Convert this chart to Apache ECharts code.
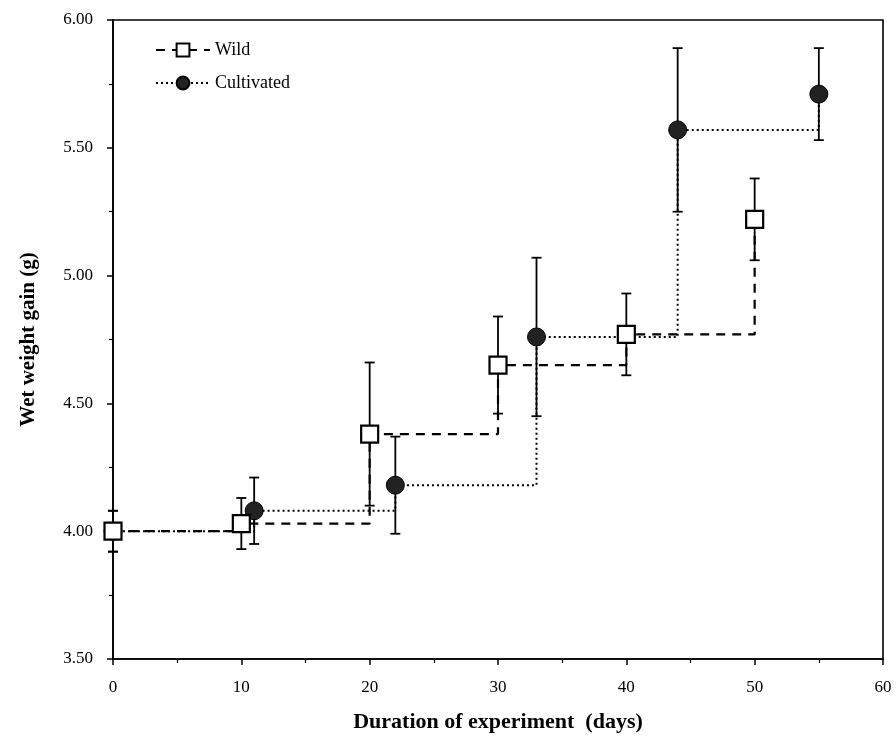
<!DOCTYPE html>
<html>
<head>
<meta charset="utf-8">
<script src="https://cdn.jsdelivr.net/npm/echarts@6/dist/echarts.min.js"></script>
<style>html,body{margin:0;padding:0;background:#fff;}#c{width:896px;height:741px;}</style>
</head>
<body>
<div id="c"></div>
<script>
const wildDays = [0, 10, 20, 30, 40, 50];
const wildMean = [4.00, 4.03, 4.38, 4.65, 4.77, 5.22];
const wildErr  = [0.08, 0.10, 0.28, 0.19, 0.16, 0.16];
const cultDays = [0, 11, 22, 33, 44, 55];
const cultMean = [4.00, 4.08, 4.18, 4.76, 5.57, 5.71];
const cultErr  = [0.08, 0.13, 0.19, 0.31, 0.32, 0.18];

const font = 'Liberation Serif';
const chart = echarts.init(document.getElementById('c'));

function errData(days, mean, err) {
  return days.map((d, i) => [d, mean[i] - err[i], mean[i] + err[i]]);
}
function errRender(params, api) {
  const x = api.value(0), lo = api.value(1), hi = api.value(2);
  const p1 = api.coord([x, hi]), p2 = api.coord([x, lo]);
  const w = 5;
  const st = { stroke: '#000', lineWidth: 1.8 };
  return { type: 'group', children: [
    { type: 'line', shape: { x1: p1[0], y1: p1[1], x2: p2[0], y2: p2[1] }, style: st },
    { type: 'line', shape: { x1: p1[0] - w, y1: p1[1], x2: p1[0] + w, y2: p1[1] }, style: st },
    { type: 'line', shape: { x1: p2[0] - w, y1: p2[1], x2: p2[0] + w, y2: p2[1] }, style: st }
  ]};
}

chart.setOption({
  animation: false,
  backgroundColor: '#fff',
  grid: { left: 113, right: 13, top: 20, bottom: 82, show: true, borderColor: '#000', borderWidth: 1.6 },
  legend: {
    orient: 'vertical', left: 150, top: 36, itemWidth: 54, itemHeight: 16, itemGap: 15,
    textStyle: { fontFamily: font, fontSize: 18, color: '#000' },
    data: ['Wild', 'Cultivated']
  },
  xAxis: {
    type: 'value', min: 0, max: 60, interval: 10,
    name: 'Duration of experiment  (days)', nameLocation: 'middle', nameGap: 52,
    nameTextStyle: { fontFamily: font, fontSize: 22, fontWeight: 'bold', color: '#000' },
    axisLine: { lineStyle: { color: '#000', width: 1.6 } },
    axisTick: { length: 6, lineStyle: { color: '#000', width: 1.5 } },
    minorTick: { show: true, splitNumber: 2, length: 4, lineStyle: { color: '#000', width: 1.2 } },
    axisLabel: { fontFamily: font, fontSize: 17, color: '#000', margin: 20 },
    splitLine: { show: false }
  },
  yAxis: {
    type: 'value', min: 3.5, max: 6, interval: 0.5,
    name: 'Wet weight gain (g)', nameLocation: 'middle', nameGap: 74,
    nameTextStyle: { fontFamily: font, fontSize: 21, fontWeight: 'bold', color: '#000' },
    axisLine: { lineStyle: { color: '#000', width: 1.6 } },
    axisTick: { length: 6, lineStyle: { color: '#000', width: 1.5 } },
    minorTick: { show: true, splitNumber: 2, length: 4, lineStyle: { color: '#000', width: 1.2 } },
    axisLabel: { fontFamily: font, fontSize: 17, color: '#000', margin: 20, formatter: v => v.toFixed(2) },
    splitLine: { show: false }
  },
  series: [
    { type: 'custom', name: 'cErr', renderItem: errRender, data: errData(cultDays, cultMean, cultErr), z: 1, silent: true },
    { type: 'custom', name: 'wErr', renderItem: errRender, data: errData(wildDays, wildMean, wildErr), z: 1, silent: true },
    {
      type: 'line', name: 'Cultivated', step: 'end', z: 3,
      data: cultDays.map((d, i) => [d, cultMean[i]]),
      symbol: 'circle', symbolSize: 18,
      itemStyle: { color: '#222', borderColor: '#000', borderWidth: 1 },
      lineStyle: { color: '#000', width: 2, type: [2, 3] }
    },
    {
      type: 'line', name: 'Wild', step: 'end', z: 4,
      data: wildDays.map((d, i) => [d, wildMean[i]]),
      symbol: 'rect', symbolSize: 17,
      itemStyle: { color: '#fff', borderColor: '#000', borderWidth: 2.2 },
      lineStyle: { color: '#000', width: 2.2, type: [9, 7] }
    }
  ]
});
</script>
</body>
</html>
